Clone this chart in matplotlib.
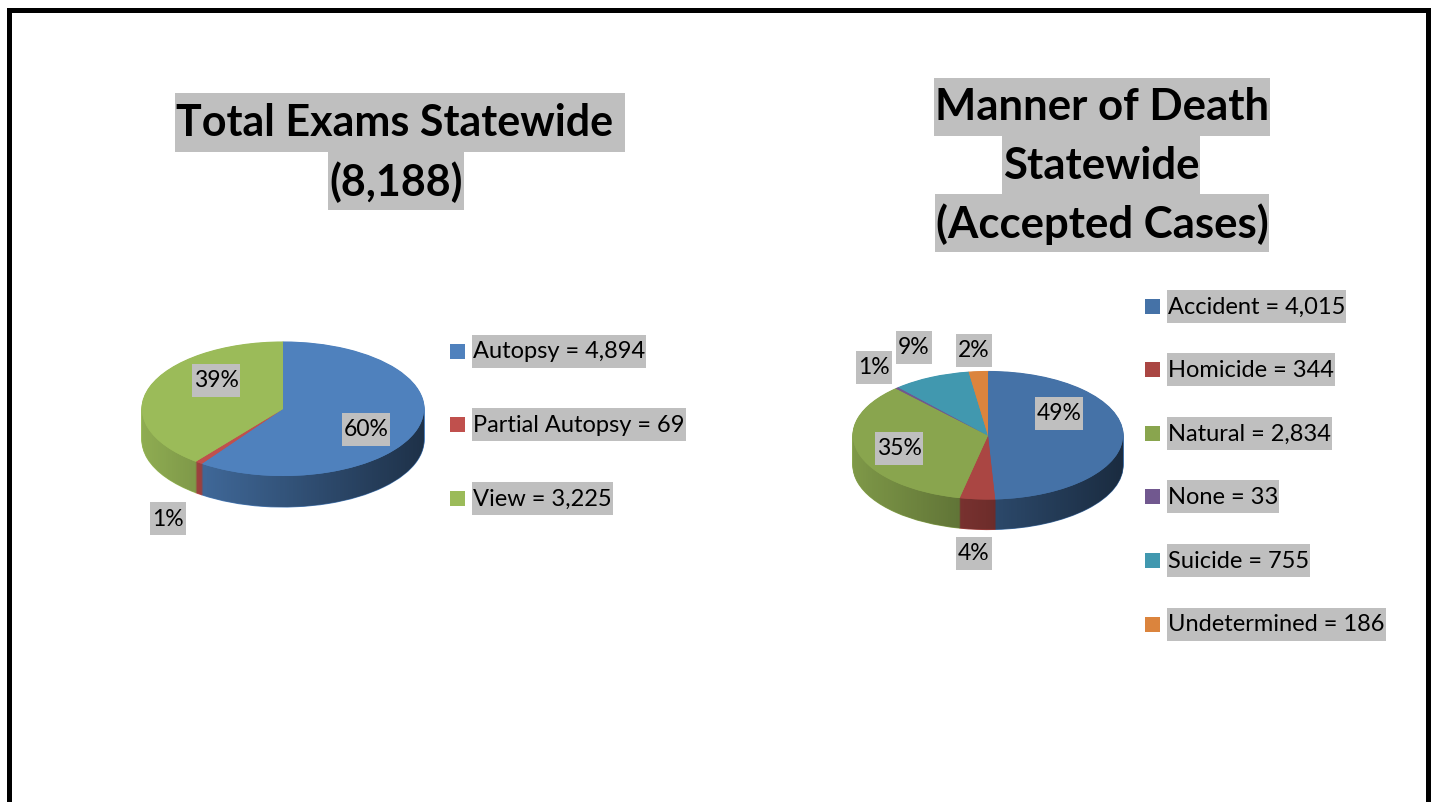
import numpy as np
import matplotlib
matplotlib.use('Agg')
import matplotlib.pyplot as plt
from matplotlib.patches import Polygon, Rectangle
from matplotlib.lines import Line2D

plt.rcParams['font.family'] = ['Lato', 'DejaVu Sans']

# data
exam_names = ['Autopsy', 'Partial Autopsy', 'View']
exam_counts = [4894, 69, 3225]
exam_pct = ['60%', '1%', '39%']
exam_colors = ['#4F81BD', '#C0504D', '#9BBB59']

manner_names = ['Accident', 'Homicide', 'Natural', 'None', 'Suicide', 'Undetermined']
manner_counts = [4015, 344, 2834, 33, 755, 186]
manner_pct = ['49%', '4%', '35%', '1%', '9%', '2%']
manner_colors = ['#4572A7', '#AA4643', '#89A54E', '#71588F', '#4198AF', '#DB843D']

# layout (pixels)
W, H = 1434, 803
GRAY = '#BFBFBF'
exam_label_xy = [(366, 430), (168, 519), (216, 381)]
manner_label_xy = [(1059, 414), (974, 554), (899, 449), (874, 368), (914, 348), (974, 351)]

fig = plt.figure(figsize=(W / 100, H / 100), dpi=100)
renderer = fig.canvas.get_renderer()


def fx(x):
	return x / W


def fy(y):
	return 1 - y / H


def hl_text(x, y, s, size, box_h, padx, ha='center', weight='normal'):
	t = fig.text(fx(x), fy(y), s, ha=ha, va='center', fontsize=size, fontweight=weight,
				 color='black', zorder=5)
	bb = t.get_window_extent(renderer=renderer)
	ymid = (bb.y0 + bb.y1) / 2
	fig.add_artist(Rectangle((fx(bb.x0 - padx), (ymid - box_h / 2) / H), (bb.width + 2 * padx) / W, box_h / H,
							 facecolor=GRAY, edgecolor='none', zorder=4))
	return t


def draw_pie(cx, cy, a, b, depth, counts, colors):
	x0, x1 = cx - 1.02 * a, cx + 1.02 * a
	y0, y1 = cy - 1.02 * b, cy + b + depth + 3
	ax = fig.add_axes([fx(x0), fy(y1), (x1 - x0) / W, (y1 - y0) / H])
	d = depth / b

	# side of the disc: copies of the pie stacked downwards
	for off in np.linspace(d, 0, int(depth) + 1):
		wedges, _ = ax.pie(counts, colors=colors, startangle=90, counterclock=False,
						   center=(0, -off), wedgeprops=dict(linewidth=0.8))
		for w in wedges:
			w.set_edgecolor(w.get_facecolor())
			w.set_zorder(1)

	# darken the side from left to right
	t = np.linspace(np.pi, 2 * np.pi, 120)
	pts = np.concatenate([np.c_[np.cos(t), np.sin(t)], np.c_[np.cos(t[::-1]), np.sin(t[::-1]) - d]])
	clip = Polygon(pts, closed=True, transform=ax.transData)
	grad = np.zeros((1, 256, 4))
	grad[..., 3] = np.linspace(0.08, 0.62, 256)
	im = ax.imshow(grad, extent=(-1, 1, -1 - d, 0.05), aspect='auto', zorder=2, interpolation='bilinear')
	im.set_clip_path(clip)

	# top face
	wedges, _ = ax.pie(counts, colors=colors, startangle=90, counterclock=False,
					   wedgeprops=dict(linewidth=0))
	for w in wedges:
		w.set_zorder(3)

	ax.set_aspect('auto')
	ax.set_xlim((x0 - cx) / a, (x1 - cx) / a)
	ax.set_ylim((cy - y1) / b, (cy - y0) / b)
	ax.axis('off')
	return ax


def draw_legend(x, y, dy, names, counts, colors):
	for i, (n, c, col) in enumerate(zip(names, counts, colors)):
		yy = y + i * dy
		fig.add_artist(Rectangle((fx(x), fy(yy + 7.5)), 15 / W, 15 / H, facecolor=col, edgecolor='none'))
		hl_text(x + 23, yy, f'{n} = {c:,}', 17, 33, 1, ha='left')


# left chart
draw_pie(283, 410, 141, 67, 31, exam_counts, exam_colors)
for s, (px, py) in zip(exam_pct, exam_label_xy):
	hl_text(px, py, s, 16.5, 33, 2)
draw_legend(450, 352, 73.5, exam_names, exam_counts, exam_colors)
hl_text(400, 123.5, 'Total Exams Statewide ', 31, 59, 1, weight='bold')
hl_text(396, 182, f'({sum(exam_counts):,})', 31, 58, 1, weight='bold')

# right chart
draw_pie(988, 436.5, 135, 64, 30, manner_counts, manner_colors)
for s, (px, py) in zip(manner_pct, manner_label_xy):
	hl_text(px, py, s, 16.5, 33, 2)
draw_legend(1145, 307, 63.6, manner_names, manner_counts, manner_colors)
hl_text(1102, 107.5, 'Manner of Death', 31.5, 58, 1, weight='bold')
hl_text(1101, 166, 'Statewide', 31.5, 58, 1, weight='bold')
hl_text(1102, 224, '(Accepted Cases)', 31.5, 58, 1, weight='bold')

# frame round the slide
fig.add_artist(Line2D([fx(8.5), fx(8.5), fx(1428), fx(1428)], [fy(830), fy(10.5), fy(10.5), fy(830)],
					  color='black', linewidth=3.6, solid_joinstyle='miter'))

fig.savefig('out.png', dpi=100)
